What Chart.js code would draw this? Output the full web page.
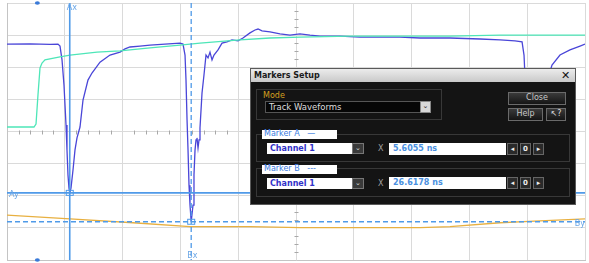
<!DOCTYPE html>
<html><head><meta charset="utf-8">
<script src="https://cdn.jsdelivr.net/npm/chart.js@4/dist/chart.umd.min.js"></script>
<style>
html,body{margin:0;padding:0;background:#fff;}
#wrap{position:relative;width:589px;height:263px;overflow:hidden;font-family:"DejaVu Sans",sans-serif;}
canvas{position:absolute;left:0;top:0;}
.a{position:absolute;box-sizing:border-box;}
#dlg{left:250px;top:68px;width:326px;height:137px;background:#141414;border:1px solid #5a5a5a;}
#title{left:0;top:0;width:324px;height:13px;background:linear-gradient(#ececec,#c9c9c9);font:bold 8px "DejaVu Sans";color:#1a1a1a;padding:2px 0 0 3px;}
.x{font:bold 11px "DejaVu Sans";color:#111;}
.grp{border:1px solid #383838;}
.lbl{background:#fff;font:8px "DejaVu Sans";color:#3a7be0;padding:0 0 0 2px;line-height:8px;}
.dd{background:#fff;font:bold 8px "DejaVu Sans";color:#3232c8;padding:1px 0 0 3px;line-height:9px;}
.arr{background:#3a3a3a;border:1px solid #777;color:#ddd;font:7px "DejaVu Sans";text-align:center;line-height:8px;}
.val{background:#fff;font:bold 8px "DejaVu Sans";color:#4a90e0;padding:1px 0 0 4px;line-height:9px;}
.btn{background:linear-gradient(#3a3a3a,#151515);border:1px solid #6a6a6a;color:#c8c8c8;font:8px "DejaVu Sans";text-align:center;line-height:10px;}
.sb{background:#2a2a2a;border:1px solid #666;color:#eee;font:bold 7px "DejaVu Sans";text-align:center;line-height:10px;}
.xm{font:8px "DejaVu Sans";color:#a0a0a0;}
</style></head>
<body>
<div id="wrap">
<canvas id="c" width="589" height="263"></canvas>
<div id="dlg" class="a">
  <div id="title" class="a">Markers Setup</div>
  <div class="a x" style="left:310px;top:0px;">✕</div>
  <div class="a grp" style="left:5px;top:20px;width:186px;height:31px;"></div>
  <div class="a" style="left:12px;top:22px;font:8px 'DejaVu Sans';color:#d4a020;">Mode</div>
  <div class="a" style="left:14px;top:32px;width:157px;height:12px;background:#060606;border:1px solid #555;font:8.5px 'DejaVu Sans';color:#ddd;padding:0 0 0 3px;line-height:10px;">Track Waveforms</div>
  <div class="a" style="left:169px;top:32px;width:11px;height:12px;background:#d8d8d8;border:1px solid #888;font:7px 'DejaVu Sans';color:#222;text-align:center;line-height:9px;">⌄</div>
  <div class="a btn" style="left:257px;top:23px;width:58px;height:13px;">Close</div>
  <div class="a btn" style="left:257px;top:39px;width:35px;height:13px;">Help</div>
  <div class="a btn" style="left:295px;top:39px;width:20px;height:13px;color:#ddd;">↖?</div>

  <div class="a grp" style="left:5px;top:65px;width:314px;height:28px;"></div>
  <div class="a lbl" style="left:11px;top:61px;width:75px;height:9px;">Marker A &nbsp;&nbsp;—</div>
  <div class="a dd" style="left:16px;top:74px;width:86px;height:11px;">Channel 1</div>
  <div class="a arr" style="left:101px;top:74px;width:12px;height:11px;">⌄</div>
  <div class="a xm" style="left:127px;top:75px;">X</div>
  <div class="a val" style="left:138px;top:74px;width:117px;height:12px;">5.6055 ns</div>
  <div class="a sb" style="left:256px;top:74px;width:11px;height:12px;">◂</div>
  <div class="a sb" style="left:269px;top:74px;width:11px;height:12px;">0</div>
  <div class="a sb" style="left:282px;top:74px;width:11px;height:12px;">▸</div>

  <div class="a grp" style="left:5px;top:99px;width:314px;height:29px;"></div>
  <div class="a lbl" style="left:11px;top:96px;width:75px;height:9px;">Marker B &nbsp;&nbsp;---</div>
  <div class="a dd" style="left:16px;top:109px;width:86px;height:11px;">Channel 1</div>
  <div class="a arr" style="left:101px;top:109px;width:12px;height:11px;">⌄</div>
  <div class="a xm" style="left:127px;top:110px;">X</div>
  <div class="a val" style="left:138px;top:108px;width:117px;height:12px;">26.6178 ns</div>
  <div class="a sb" style="left:256px;top:108px;width:11px;height:12px;">◂</div>
  <div class="a sb" style="left:269px;top:108px;width:11px;height:12px;">0</div>
  <div class="a sb" style="left:282px;top:108px;width:11px;height:12px;">▸</div>
</div>
</div>
<script>
// time in ns, amplitude in divisions
const ch1Time = [-5.25,-1.27,2.19,3.57,3.92,4.27,4.61,4.96,5.13,5.30,5.47,5.61,5.82,6.17,6.51,6.86,7.38,7.90,8.76,9.45,10.84,12.57,14.30,15.17,16.03,17.76,19.49,22.08,24.68,25.20,25.55,25.72,25.90,26.07,26.24,26.41,26.62,26.93,27.10,27.28,27.45,27.62,27.80,27.97,28.14,28.49,28.83,29.18,29.53,29.87,30.22,30.56,31.26,31.95,32.81,33.68,34.72,35.58,36.79,37.66,38.18,38.87,40.25,41.98,43.71,45.44,47.17,48.90,52.36,55.82,59.28,62.74,66.21,71.40,76.59,80.05,82.64,83.86,84.20,84.55,84.89,85.41,85.93,86.62,87.49,88.35,89.04,90.42,92.15,93.89,94.75];
const ch1Value = [2.72,2.73,2.71,2.72,2.66,2.23,1.45,0.20,-0.58,-1.35,-1.76,-1.91,-1.76,-1.20,-0.58,-0.20,0.14,0.98,1.60,1.82,2.16,2.38,2.47,2.57,2.63,2.66,2.69,2.72,2.75,2.72,2.38,1.60,0.36,-0.58,-1.67,-2.29,-2.81,-2.29,-1.35,-0.58,-0.26,-0.20,-0.51,-0.26,0.11,1.20,1.76,2.38,2.29,2.47,2.23,2.38,2.54,2.75,2.79,2.85,2.82,2.91,3.07,3.16,3.19,3.13,3.10,3.04,3.00,3.04,3.00,2.97,2.97,2.94,2.94,2.94,2.91,2.91,2.88,2.85,2.82,2.79,2.38,0.98,-0.58,-1.67,-0.89,0.36,1.14,1.67,2.07,2.38,2.54,2.66,2.72];
const ch2Time = [-5.25,-3.00,-0.58,-0.23,0.11,0.46,0.81,1.32,3.92,5.65,10.32,14.30,19.49,24.68,28.14,35.06,40.25,45.44,54.09,62.74,71.40,80.05,88.70,94.75];
const ch2Value = [0.14,0.14,0.14,0.23,1.14,1.98,2.13,2.23,2.32,2.38,2.47,2.51,2.60,2.69,2.75,2.85,2.91,2.94,2.97,2.97,2.97,3.00,3.00,3.00];
const ch3Time = [-5.25,5.65,16.55,26.41,36.79,45.44,59.28,66.21,71.40,80.05,86.97,94.75];
const ch3Value = [-2.60,-2.72,-2.84,-2.96,-2.96,-2.99,-2.99,-2.99,-2.96,-2.84,-2.78,-2.72];
const xGrid = [-5.25,4.75,14.75,24.75,34.75,44.75,54.75,64.75,74.75,84.75,94.75];
const yGrid = [-4,-3,-2,-1,0,1,2,3,4];
const markerX = {A:5.6055, B:26.6178};
const markerY = {A:-1.91, B:-2.81};
const triggerTime = 0;

const zip = (t,v)=>t.map((x,i)=>({x, y:v[i]}));

const markerPlugin = {
  id:'markers',
  afterDatasetsDraw(chart){
    const {ctx, chartArea:a, scales:{x,y}} = chart;
    ctx.save();
    ctx.strokeStyle='#a8a8a8'; ctx.lineWidth=1;
    const cx = Math.round(x.getPixelForValue(xGrid[5]))+0.5;
    const cy = Math.round(y.getPixelForValue(0))+0.5;
    for(let i=0;i<yGrid.length-1;i++){
      for(let k=1;k<4;k++){
        const p = Math.round(y.getPixelForValue(yGrid[i]+k/4))+0.5;
        ctx.beginPath(); ctx.moveTo(cx-2,p); ctx.lineTo(cx+2,p); ctx.stroke();
      }
    }
    for(let i=0;i<xGrid.length-1;i++){
      for(let k=1;k<5;k++){
        const p = Math.round(x.getPixelForValue(xGrid[i]+k*2))+0.5;
        ctx.beginPath(); ctx.moveTo(p,cy-2); ctx.lineTo(p,cy+2); ctx.stroke();
      }
    }
    const mc='#4f9ae8';
    const ax=x.getPixelForValue(markerX.A), bx=x.getPixelForValue(markerX.B);
    const ay=y.getPixelForValue(markerY.A), by=y.getPixelForValue(markerY.B);
    ctx.strokeStyle=mc; ctx.lineWidth=1.6;
    ctx.beginPath(); ctx.moveTo(ax,a.top); ctx.lineTo(ax,a.bottom); ctx.stroke();
    ctx.beginPath(); ctx.moveTo(a.left,ay); ctx.lineTo(a.right,ay); ctx.stroke();
    ctx.setLineDash([5,3]); ctx.lineWidth=1.3;
    ctx.beginPath(); ctx.moveTo(bx,a.top); ctx.lineTo(bx,a.bottom); ctx.stroke();
    ctx.beginPath(); ctx.moveTo(a.left,by); ctx.lineTo(a.right,by); ctx.stroke();
    ctx.setLineDash([]); ctx.lineWidth=1;
    ctx.strokeRect(ax-3.5,ay-2.5,7,5);
    ctx.strokeRect(bx-3.5,by-2.5,7,5);
    ctx.fillStyle='#6aa6e6'; ctx.font='8px "DejaVu Sans"';
    ctx.textBaseline='middle';
    ctx.textAlign='left';
    ctx.fillText('Ax', ax-3, a.top+5);
    ctx.fillText('Bx', bx-4, a.bottom-4);
    ctx.fillText('Ay', a.left+2, ay+2);
    ctx.textAlign='right';
    ctx.fillText('By', a.right, by+2);
    const tx=x.getPixelForValue(triggerTime);
    ctx.fillStyle='#3a7ad8';
    ctx.beginPath(); ctx.ellipse(tx,a.top,2.5,1.8,0,0,Math.PI*2); ctx.fill();
    ctx.beginPath(); ctx.ellipse(tx,a.bottom,2.5,1.8,0,0,Math.PI*2); ctx.fill();
    ctx.restore();
  }
};

new Chart(document.getElementById('c'),{
  type:'line',
  data:{datasets:[
    {label:'Channel 3',data:zip(ch3Time,ch3Value),borderColor:'#e8b040',borderWidth:1.3,pointRadius:0,tension:0},
    {label:'Channel 2',data:zip(ch2Time,ch2Value),borderColor:'#4ee6b8',borderWidth:1.3,pointRadius:0,tension:0},
    {label:'Channel 1',data:zip(ch1Time,ch1Value),borderColor:'#4a46d8',borderWidth:1.3,pointRadius:0,tension:0}
  ]},
  options:{
    responsive:false,animation:false,devicePixelRatio:1,
    layout:{padding:{left:7,right:4,top:3,bottom:3}},
    plugins:{legend:{display:false},tooltip:{enabled:false}},
    scales:{
      x:{type:'linear',min:xGrid[0],max:xGrid[xGrid.length-1],
        afterBuildTicks:s=>{s.ticks=xGrid.map(v=>({value:v}));},
        ticks:{display:false},grid:{color:'#dadada',drawTicks:false},border:{color:'#c4c4c4'}},
      y:{type:'linear',min:yGrid[0],max:yGrid[yGrid.length-1],
        afterBuildTicks:s=>{s.ticks=yGrid.map(v=>({value:v}));},
        ticks:{display:false},grid:{color:'#dadada',drawTicks:false},border:{color:'#c4c4c4'}}
    }
  },
  plugins:[markerPlugin]
});
</script>
</body></html>
